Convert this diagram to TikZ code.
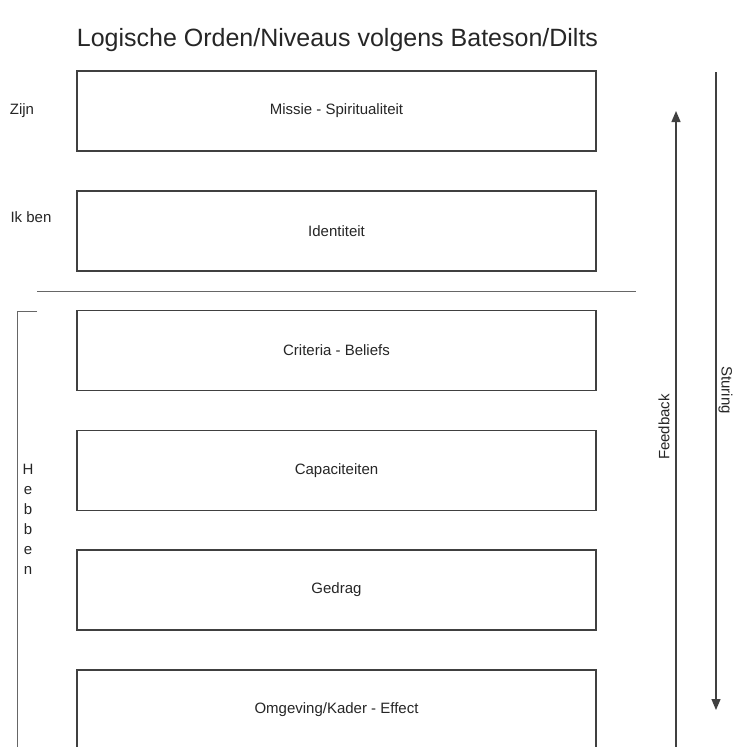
\documentclass[tikz,border=0pt]{standalone}
\usepackage{fontspec}
\setmainfont{Liberation Sans}
\usetikzlibrary{arrows.meta}
\begin{document}
\begin{tikzpicture}[x=1pt,y=-1pt,
  level/.style={draw=black!75,line width=1.1pt,minimum width=519pt,minimum height=80pt,inner sep=0pt,
    font=\fontsize{15}{18}\selectfont,text=black!85},
  lbl/.style={font=\fontsize{15}{18}\selectfont,text=black!85,inner sep=0pt},
  sep/.style={draw=black!60,line width=1pt},
  arr/.style={draw=black!75,line width=1.3pt,-{Triangle[length=11pt,width=9pt]}}]
\useasboundingbox (0,0) rectangle (734,747);
\clip (0,0) rectangle (734,747);
\fill[white] (0,0) rectangle (734,747);
\node[inner sep=0pt,font=\fontsize{25}{30}\selectfont,text=black!85] (title) at (337.5,40) {Logische Orden/Niveaus volgens Bateson/Dilts};
\node[level] (b1) at (336.5,111) {Missie - Spiritualiteit};
\node[level] (b2) at (336.5,231) {Identiteit};
\node[level] (b3) at (336.5,350.5) {Criteria - Beliefs};
\node[level] (b4) at (336.5,470.5) {Capaciteiten};
\node[level] (b5) at (336.5,590) {Gedrag};
\node[level] (b6) at (336.5,710) {Omgeving/Kader - Effect};
\node[lbl] (zijn) at (22,111) {Zijn};
\node[lbl] (ikben) at (31,217) {Ik ben};
\node[lbl,align=center] (hebben) at (28,519) {H\\[2pt]e\\[2pt]b\\[2pt]b\\[2pt]e\\[2pt]n};
\coordinate (sepL) at (37,291);
\coordinate (sepR) at (636,291);
\draw[sep] (sepL) -- (sepR);
\coordinate (brT) at (37,311);
\coordinate (brC) at (17,311);
\coordinate (brB) at (17,760);
\draw[sep] (brT) -- (brC) -- (brB);
\coordinate (fbS) at (676,760);
\coordinate (fbE) at (676,111);
\draw[arr] (fbS) -- (fbE);
\coordinate (stS) at (716,72);
\coordinate (stE) at (716,710);
\draw[arr] (stS) -- (stE);
\node[lbl,rotate=90] (feedback) at (664,427) {Feedback};
\node[lbl,rotate=-90] (sturing) at (725.5,390) {Sturing};
\end{tikzpicture}
\end{document}
